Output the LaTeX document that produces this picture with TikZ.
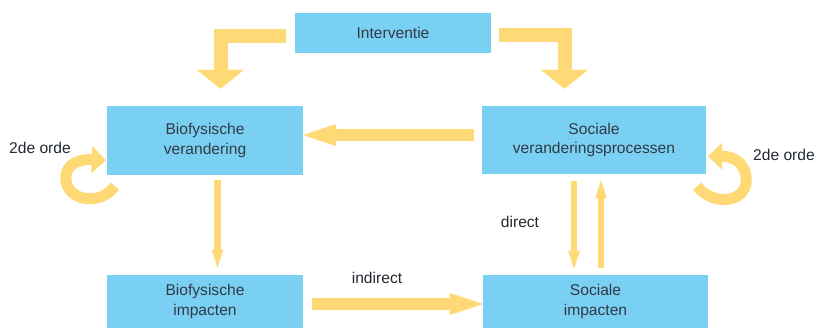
\documentclass[tikz,border=0pt]{standalone}
\usepackage{fontspec}
\setmainfont{Liberation Sans}
\usetikzlibrary{arrows.meta,positioning}
\definecolor{sky}{RGB}{121,208,243}
\definecolor{sun}{RGB}{255,217,118}
\definecolor{ink}{RGB}{50,58,68}
\tikzset{
  box/.style={fill=sky,text=ink,inner sep=0pt,align=center,
    font=\fontsize{15.6}{19.5}\selectfont},
  tag/.style={text=ink!70!black,font=\fontsize{15.6}{19}\selectfont},
  fat/.style={draw=sun,line width=12pt,-{Triangle[length=33pt,width=22pt,line width=.1pt]}},
  elbow/.style={draw=sun,line width=14pt,line join=miter,
    -{Triangle[length=19pt,width=47pt,line width=.1pt]}},
  slim/.style={draw=sun,line width=6.5pt,-{Triangle[length=18pt,width=11.5pt,line width=.1pt]}},
  curl/.style={draw=sun,line width=11pt,-{Triangle[length=14pt,width=27pt,line width=.1pt]}},
}

\begin{document}
\begin{tikzpicture}[x=1pt,y=-1pt]
  \useasboundingbox (0,0) rectangle (818,328);
  \foreach \n/\x/\y/\w/\h/\t in {
    interv/393/33/196/40/Interventie,
    bio/205/140.5/196/69/{Biofysische\\verandering},
    soc/594/140/224/68/{Sociale\\veranderingsprocessen},
    bioimp/205/301.5/196/53/{Biofysische\\impacten},
    socimp/595.5/301.5/225/53/{Sociale\\impacten}}
  {
    \node[box,minimum width=\w pt,minimum height=\h pt] (\n) at (\x,\y) {\t};
  }
  \node[tag] (orde1) at (40,148) {2de orde};
  \node[tag] (orde2) at (784,155) {2de orde};
  \node[tag] (direct) at (520,222) {direct};
  \node[tag] (indirect) at (377,278) {indirect};

  \draw[elbow] ([shift={(-9,3)}]interv.west) -| ([shift={(15.5,-17)}]bio.north);
  \draw[elbow] ([shift={(8,2)}]interv.east) -| ([shift={(-29.5,-17)}]soc.north);
  \draw[fat] ([shift={(-8,-5)}]soc.west) -- ([shift={(0,-5.5)}]bio.east);
  \draw[fat] ([shift={(9,2.5)}]bioimp.east) -- ([shift={(0,2.5)}]socimp.west);
  \draw[slim] ([shift={(12.5,5)}]bio.south) -- ([shift={(12.5,-7)}]bioimp.north);
  \draw[slim] ([shift={(-20,7)}]soc.south) -- ([shift={(-21.5,-6)}]socimp.north);
  \draw[slim] ([shift={(5.5,-7)}]socimp.north) -- ([shift={(7,6)}]soc.south);
  % 2de orde
  \draw[curl] ([shift={(8,11)}]bio.south west) .. controls +(-15,21) and +(0,22) ..
    ([shift={(-41,3)}]bio.south west) .. controls +(0,-16) and +(-24,-1) ..
    ([shift={(-1,-15)}]bio.south west);
  \draw[curl] ([shift={(-9,12)}]soc.south east) .. controls +(15,20) and +(0,23) ..
    ([shift={(40,6)}]soc.south east) .. controls +(0,-18) and +(24,0) ..
    ([shift={(2,-18)}]soc.south east);
\end{tikzpicture}
\end{document}
